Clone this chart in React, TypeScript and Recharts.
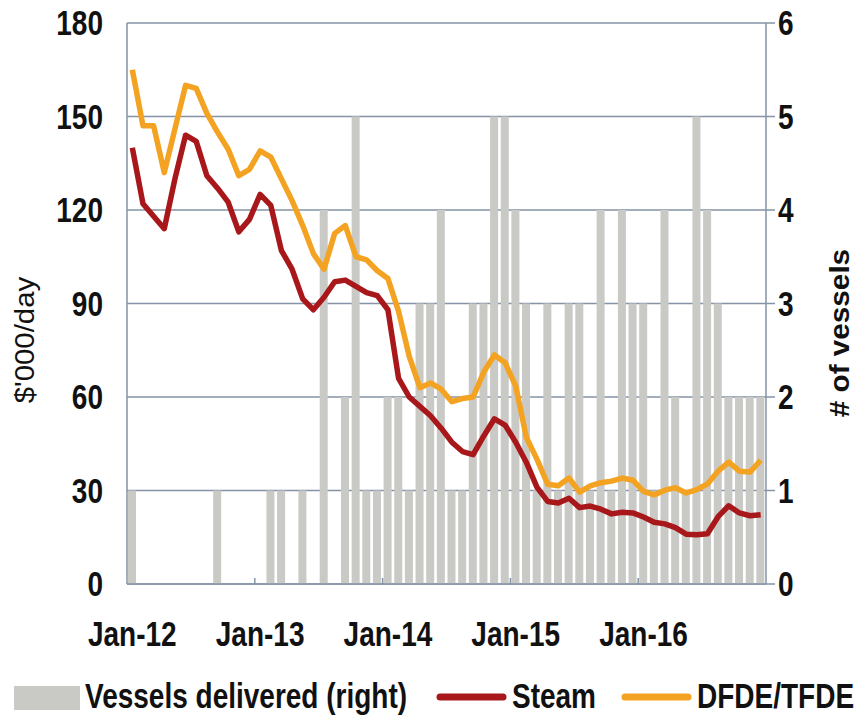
import React from 'react';
import { ComposedChart, Bar, Line, XAxis, YAxis, CartesianGrid } from 'recharts';

const m2012 = ['Jan-12','Feb-12','Mar-12','Apr-12','May-12','Jun-12','Jul-12','Aug-12','Sep-12','Oct-12','Nov-12','Dec-12'];
const m2013 = ['Jan-13','Feb-13','Mar-13','Apr-13','May-13','Jun-13','Jul-13','Aug-13','Sep-13','Oct-13','Nov-13','Dec-13'];
const m2014 = ['Jan-14','Feb-14','Mar-14','Apr-14','May-14','Jun-14','Jul-14','Aug-14','Sep-14','Oct-14','Nov-14','Dec-14'];
const m2015 = ['Jan-15','Feb-15','Mar-15','Apr-15','May-15','Jun-15','Jul-15','Aug-15','Sep-15','Oct-15','Nov-15','Dec-15'];
const m2016 = ['Jan-16','Feb-16','Mar-16','Apr-16','May-16','Jun-16','Jul-16','Aug-16','Sep-16','Oct-16','Nov-16','Dec-16'];
const categories = [...m2012, ...m2013, ...m2014, ...m2015, ...m2016];

const vessels = [
  1, 0, 0, 0, 0, 0, 0, 0, 1, 0, 0, 0,
  0, 1, 1, 0, 1, 0, 4, 0, 2, 5, 1, 1,
  2, 2, 1, 3, 3, 4, 1, 1, 3, 3, 5, 5,
  4, 3, 1, 3, 1, 3, 3, 1, 4, 1, 4, 3,
  3, 1, 4, 2, 1, 5, 4, 3, 2, 2, 2, 2,
];
const steam = [
  140, 122, 118, 114, 130, 144, 142, 131, 127, 122.5, 113, 117,
  125, 121.5, 107, 101, 91.5, 88, 92, 97, 97.5, 95.5, 93.5, 92.5,
  88, 66, 60, 57, 54, 50, 45.5, 42.5, 41.5, 47.5, 53, 51,
  45.5, 39, 31, 26.5, 26, 27.5, 24.5, 25, 24, 22.5, 23, 22.8,
  21.5, 19.8, 19.3, 18.1, 16, 15.8, 16.1, 21.6, 25.1, 22.8, 21.9, 22.2,
];
const dfde = [
  165, 147, 147, 132, 146, 160, 159, 151, 145, 139.5, 131, 133,
  139, 137, 130, 123, 115, 106, 101, 112.5, 115, 105, 104, 100.5,
  98, 87.5, 73, 63, 64.5, 62.5, 58.5, 59.5, 60, 68, 73.5, 71,
  63.5, 47, 40, 32, 31.5, 34, 29.5, 31.5, 32.5, 33, 34, 33.3,
  29.7, 28.6, 30.1, 30.9, 29.2, 30.3, 32.1, 36.2, 39.1, 36.2, 35.9, 39.7,
];
const leftTicks = [0, 30, 60, 90, 120, 150, 180];
const rightTicks = [0, 1, 2, 3, 4, 5, 6];
const xTickLabels = ['Jan-12', 'Jan-13', 'Jan-14', 'Jan-15', 'Jan-16'];

const data = categories.map((c, i) => ({ month: c, vessels: vessels[i], steam: steam[i], dfde: dfde[i] }));

const W = 857;
const H = 718;
const LEFT_W = 127;
const RIGHT_W = 91;
const PLOT_W = W - LEFT_W - RIGHT_W;
const BAND = PLOT_W / categories.length;
const FONT = "'Liberation Sans', Arial, sans-serif";
const GRID = '#8593a6';
const BAR = '#c9cac5';
const RED = '#a8181b';
const ORANGE = '#f3a321';

const LeftTick = (props: any) => {
  const { x, y, payload } = props;
  return (
    <g transform={`translate(${x},${y})`}>
      <text x={0} y={0} textAnchor="end" dominantBaseline="central" fontFamily={FONT} fontWeight="bold" fontSize={35} fill="#111" transform="scale(0.8,1)">
        {payload.value}
      </text>
    </g>
  );
};

const RightTick = (props: any) => {
  const { x, y, payload } = props;
  return (
    <g transform={`translate(${x},${y})`}>
      <text x={0} y={0} textAnchor="start" dominantBaseline="central" fontFamily={FONT} fontWeight="bold" fontSize={35} fill="#111" transform="scale(0.8,1)">
        {payload.value}
      </text>
    </g>
  );
};

const BottomTick = (props: any) => {
  const { x, y, payload, index } = props;
  return (
    <g transform={`translate(${x},${y})`}>
      {index > 0 ? <line x1={-BAND / 2} x2={-BAND / 2} y1={-6} y2={0} stroke={GRID} strokeWidth={1.5} /> : null}
      <text x={0} y={62} textAnchor="middle" fontFamily={FONT} fontWeight="bold" fontSize={35} fill="#111" transform="scale(0.8,1)">
        {payload.value}
      </text>
    </g>
  );
};

const LeftTitle = () => {
  const cy = 340;
  const cx = 24;
  return (
    <text transform={`translate(${cx},${cy}) rotate(-90) scale(1.05,1)`} textAnchor="middle" dominantBaseline="central" fontFamily={FONT} fontSize={28} fill="#111">
      $'000/day
    </text>
  );
};

const RightTitle = () => {
  const cy = 333;
  const cx = 839;
  return (
    <text transform={`translate(${cx},${cy}) rotate(-90) scale(1.06,1)`} textAnchor="middle" dominantBaseline="central" fontFamily={FONT} fontWeight="bold" fontSize={28} fill="#111">
      # of vessels
    </text>
  );
};

const Legend = () => (
  <svg width={W} height={60} style={{ position: 'absolute', left: 0, top: 668 }}>
    <rect x={14} y={18} width={66} height={24} fill={BAR} />
    <text x={85} y={40} fontFamily={FONT} fontWeight="bold" fontSize={35} fill="#111" transform="translate(85,0) scale(0.8,1) translate(-85,0)">
      Vessels delivered (right)
    </text>
    <line x1={440} x2={503} y1={29} y2={29} stroke={RED} strokeWidth={7} strokeLinecap="round" />
    <text x={512} y={40} fontFamily={FONT} fontWeight="bold" fontSize={35} fill="#111" transform="translate(512,0) scale(0.8,1) translate(-512,0)">
      Steam
    </text>
    <line x1={625} x2={688} y1={29} y2={29} stroke={ORANGE} strokeWidth={7} strokeLinecap="round" />
    <text x={697} y={40} fontFamily={FONT} fontWeight="bold" fontSize={35} fill="#111" transform="translate(697,0) scale(0.8,1) translate(-697,0)">
      DFDE/TFDE
    </text>
  </svg>
);

export default function App() {
  return (
    <div style={{ position: 'absolute', left: 0, top: 0, width: W, height: H, background: '#fff' }}>
      <ComposedChart width={W} height={H} data={data} margin={{ top: 23, right: 0, left: 0, bottom: 64 }} barCategoryGap={0}>
        <CartesianGrid yAxisId="left" horizontal vertical={false} stroke={GRID} strokeWidth={1.5} />
        <XAxis dataKey="month" ticks={xTickLabels} interval={0} height={70} tickSize={0} tickMargin={0} tickLine={false} axisLine={{ stroke: GRID, strokeWidth: 1.5 }} tick={<BottomTick />} />
        <YAxis yAxisId="left" orientation="left" width={LEFT_W} domain={[0, 180]} ticks={leftTicks} interval={0} tickSize={0} tickMargin={24} tickLine={false} axisLine={{ stroke: GRID, strokeWidth: 1.5 }} tick={<LeftTick />} label={<LeftTitle />} />
        <YAxis yAxisId="right" orientation="right" width={RIGHT_W} domain={[0, 6]} ticks={rightTicks} interval={0} tickSize={9} tickMargin={3} tickLine={{ stroke: GRID, strokeWidth: 1.5 }} axisLine={{ stroke: GRID, strokeWidth: 1.5 }} tick={<RightTick />} label={<RightTitle />} />
        <Bar yAxisId="right" dataKey="vessels" fill={BAR} barSize={8} isAnimationActive={false} />
        <Line yAxisId="left" type="linear" dataKey="steam" stroke={RED} strokeWidth={5.5} dot={false} isAnimationActive={false} strokeLinejoin="round" />
        <Line yAxisId="left" type="linear" dataKey="dfde" stroke={ORANGE} strokeWidth={5.5} dot={false} isAnimationActive={false} strokeLinejoin="round" />
      </ComposedChart>
      <Legend />
    </div>
  );
}
